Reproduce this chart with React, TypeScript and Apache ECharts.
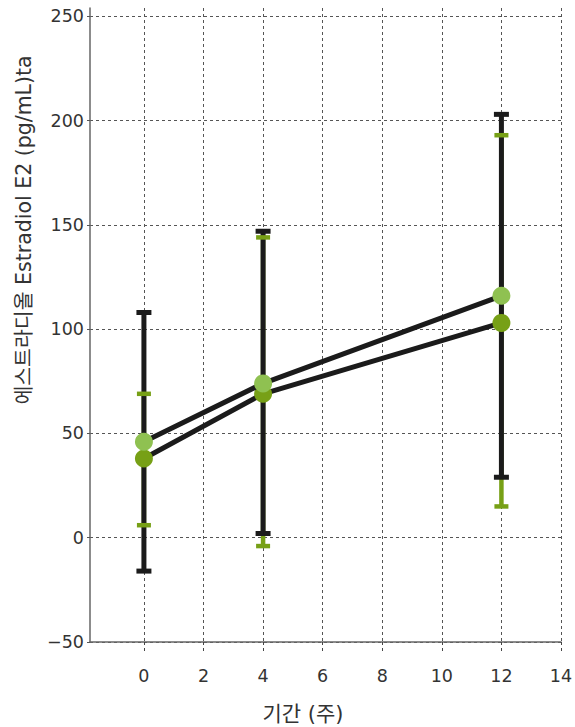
import React, { useEffect, useRef } from "react";
import * as echarts from "echarts";

const weeks = [0, 4, 12];
const lightMean = [46, 74, 116];
const darkMean = [38, 69, 103];
const lightLow = [-16, 2, 29];
const lightHigh = [108, 147, 203];
const darkLow = [6, -4, 15];
const darkHigh = [69, 144, 193];

const xTitle = "기간 (주)";
const yTitle = "에스트라디올 Estradiol E2 (pg/mL)ta";

const FONT = "'DejaVu Sans', 'Noto Sans CJK KR', sans-serif";
const BLACK = "#1b1b1b";
const LIGHT = "#8fc151";
const DARK = "#77a016";

function makeRender(color: string, width: number, capW: number, capH: number, drawLine: boolean, drawCaps: boolean) {
  return (params: any, api: any) => {
    const x = api.value(0);
    const lo = api.value(1);
    const hi = api.value(2);
    const pLo = api.coord([x, lo]);
    const pHi = api.coord([x, hi]);
    const children: any[] = [];
    if (drawLine) {
      children.push({
        type: "line",
        shape: { x1: pLo[0], y1: pLo[1], x2: pHi[0], y2: pHi[1] },
        style: { stroke: color, lineWidth: width },
      });
    }
    if (drawCaps) {
      [pLo, pHi].forEach((p: number[]) => {
        children.push({
          type: "rect",
          shape: { x: p[0] - capW / 2, y: p[1] - capH / 2, width: capW, height: capH },
          style: { fill: color },
        });
      });
    }
    return { type: "group", children };
  };
}

export default function App() {
  const ref = useRef<HTMLDivElement>(null);
  useEffect(() => {
    if (!ref.current) return;
    const chart = echarts.init(ref.current, undefined, { renderer: "svg" });
    const lightErr = weeks.map((w, i) => [w, lightLow[i], lightHigh[i]]);
    const darkErr = weeks.map((w, i) => [w, darkLow[i], darkHigh[i]]);
    const gridLine = { show: true, lineStyle: { color: "#555", type: [3, 3] as any, width: 1 } };
    chart.setOption({
      animation: false,
      backgroundColor: "#fff",
      grid: { left: 90, right: 14, top: 8, bottom: 85, containLabel: false, outerBoundsMode: "none" },
      xAxis: {
        type: "value",
        min: -1.81,
        max: 14,
        minInterval: 2,
        maxInterval: 2,
        splitNumber: 8,
        axisLine: { show: true, onZero: false, lineStyle: { color: "#666", width: 1.5 } },
        axisTick: { show: true, length: 9, lineStyle: { color: "#444", type: [3, 3] as any, width: 1 } },
        axisLabel: {
          fontSize: 17.5,
          color: "#333",
          fontFamily: FONT,
          margin: 25,
          showMinLabel: false,
          formatter: (v: number) => (Number.isInteger(v) ? String(v) : ""),
        },
        splitLine: { ...gridLine, showMinLine: false },
      },
      yAxis: {
        type: "value",
        min: -50,
        max: 254,
        interval: 50,
        axisLine: { show: true, onZero: false, lineStyle: { color: "#666", width: 1.5 } },
        axisTick: { show: true, length: 5, lineStyle: { color: "#555", type: [3, 2] as any, width: 1 } },
        axisLabel: {
          fontSize: 17.5,
          color: "#333",
          fontFamily: FONT,
          margin: 6,
          showMaxLabel: false,
          formatter: (v: number) => (v % 50 === 0 ? String(v).replace("-", "−") : ""),
        },
        splitLine: { ...gridLine, showMaxLine: false },
      },
      graphic: [
        {
          type: "text",
          x: 24,
          y: 230,
          rotation: Math.PI / 2,
          style: {
            text: yTitle,
            font: `20.5px ${FONT}`,
            fill: "#333",
            align: "center",
            verticalAlign: "middle",
          },
        },
        {
          type: "text",
          x: 303,
          y: 714,
          style: {
            text: xTitle,
            font: `21px ${FONT}`,
            fill: "#333",
            align: "center",
            verticalAlign: "middle",
          },
        },
      ],
      series: [
        {
          type: "custom",
          name: "darkErrLine",
          z: 1,
          data: darkErr,
          encode: { x: 0, y: [1, 2] },
          renderItem: makeRender(DARK, 4.5, 14, 4.5, true, false),
          silent: true,
        },
        {
          type: "custom",
          name: "lightErr",
          z: 2,
          data: lightErr,
          encode: { x: 0, y: [1, 2] },
          renderItem: makeRender(BLACK, 5, 15, 5, true, true),
          silent: true,
        },
        {
          type: "custom",
          name: "darkErrCaps",
          z: 3,
          data: darkErr,
          encode: { x: 0, y: [1, 2] },
          renderItem: makeRender(DARK, 4.5, 14, 4.5, false, true),
          silent: true,
        },
        {
          type: "line",
          name: "dark",
          z: 4,
          data: weeks.map((w, i) => [w, darkMean[i]]),
          symbol: "circle",
          symbolSize: 18,
          lineStyle: { color: BLACK, width: 5 },
          itemStyle: { color: DARK },
        },
        {
          type: "line",
          name: "light",
          z: 5,
          data: weeks.map((w, i) => [w, lightMean[i]]),
          symbol: "circle",
          symbolSize: 18,
          lineStyle: { color: BLACK, width: 5 },
          itemStyle: { color: LIGHT },
        },
      ],
    });
    return () => chart.dispose();
  }, []);
  return <div ref={ref} style={{ position: "fixed", left: 0, top: 0, width: 575, height: 727 }} />;
}
